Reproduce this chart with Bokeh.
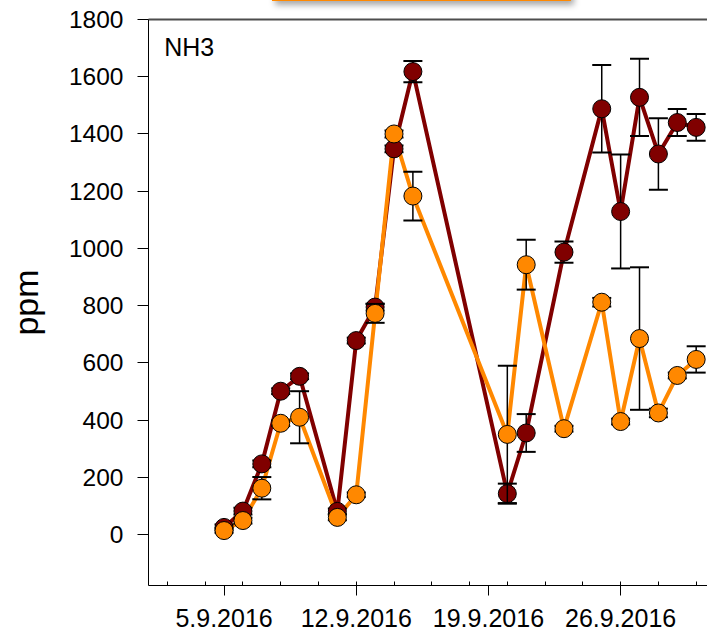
import pandas as pd
from bokeh.plotting import figure
from bokeh.layouts import column
from bokeh.models import ColumnDataSource, Range1d, FixedTicker, LinearAxis, Label, Div
from bokeh.embed import file_html
from bokeh.resources import INLINE

# ---- data ----
dates = ["2016-09-05", "2016-09-06", "2016-09-07", "2016-09-08", "2016-09-09",
         "2016-09-11", "2016-09-12", "2016-09-13", "2016-09-14", "2016-09-15",
         "2016-09-20", "2016-09-21", "2016-09-23", "2016-09-25", "2016-09-26",
         "2016-09-27", "2016-09-28", "2016-09-29", "2016-09-30"]
dark_vals = [25, 82, 247, 501, 553, 81, 678, 795, 1348, 1618,
             143, 355, 987, 1488, 1129, 1528, 1330, 1440, 1423]
dark_err = [10, 12, 12, 10, 10, 10, 10, 12, 12, 37,
            35, 66, 37, 153, 199, 135, 125, 47, 47]
orange_vals = [14, 49, 162, 389, 410, 60, 139, 773, 1400, 1183,
               350, 943, 370, 812, 395, 685, 425, 556, 612]
orange_err = [8, 10, 39, 10, 91, 10, 8, 33, 12, 85,
              240, 87, 10, 15, 10, 249, 15, 10, 46]
tick_dates = ["2016-09-05", "2016-09-12", "2016-09-19", "2016-09-26"]
tick_labels = ["5.9.2016", "12.9.2016", "19.9.2016", "26.9.2016"]
minor_dates = ["2016-09-%02d" % d for d in range(2, 31, 2)]
y_ticks = [0, 200, 400, 600, 800, 1000, 1200, 1400, 1600, 1800]
panel_label = "NH3"
y_label = "ppm"

DARK = "#800000"
ORANGE = "#FF8800"
FONT = "Liberation Sans"

def ms(s):
    return float(pd.Timestamp(s).value // 10**6)

x = pd.to_datetime(dates)
src = ColumnDataSource(dict(
    x=x,
    dark=dark_vals,
    dark_lo=[v - e for v, e in zip(dark_vals, dark_err)],
    dark_hi=[v + e for v, e in zip(dark_vals, dark_err)],
    orange=orange_vals,
    orange_lo=[v - e for v, e in zip(orange_vals, orange_err)],
    orange_hi=[v + e for v, e in zip(orange_vals, orange_err)],
))

x_start = pd.Timestamp("2016-09-01")
x_end = pd.Timestamp("2016-09-01") + pd.Timedelta(days=29.6)

W = 707
STRIP = 4
H = 636 - STRIP
LEFT, TOP, BOTTOM = 148, 19 - STRIP, 51
p = figure(width=W, height=H, x_axis_type="datetime",
           output_backend="svg", toolbar_location=None,
           x_range=Range1d(x_start, x_end), y_range=Range1d(-178, 1800),
           min_border_left=LEFT, min_border_right=0,
           min_border_top=TOP, min_border_bottom=BOTTOM)
p.xgrid.visible = False
p.ygrid.visible = False
p.outline_line_color = None
p.background_fill_color = "white"
p.border_fill_color = "white"

# lines
p.line("x", "dark", source=src, line_color=DARK, line_width=4)
p.line("x", "orange", source=src, line_color=ORANGE, line_width=4)

# dark error bars + markers
p.segment("x", "dark_lo", "x", "dark_hi", source=src, line_color="black", line_width=1.5)
p.scatter("x", "dark_lo", source=src, marker="dash", size=19, line_color="black", line_width=2)
p.scatter("x", "dark_hi", source=src, marker="dash", size=19, line_color="black", line_width=2)
p.scatter("x", "dark", source=src, size=18, fill_color=DARK, line_color="black", line_width=1)

# orange error bars + markers
p.segment("x", "orange_lo", "x", "orange_hi", source=src, line_color="black", line_width=1.5)
p.scatter("x", "orange_lo", source=src, marker="dash", size=19, line_color="black", line_width=2)
p.scatter("x", "orange_hi", source=src, marker="dash", size=19, line_color="black", line_width=2)
p.scatter("x", "orange", source=src, size=18, fill_color=ORANGE, line_color="black", line_width=1)

# x axis
xa = p.xaxis[0]
xa.ticker = FixedTicker(ticks=[ms(d) for d in tick_dates],
                        minor_ticks=[ms(d) for d in minor_dates])
xa.major_label_overrides = {ms(d): lab for d, lab in zip(tick_dates, tick_labels)}
xa.major_label_text_font = FONT
xa.major_label_text_font_size = "25px"
xa.major_label_text_color = "black"
xa.major_label_standoff = 13
xa.major_tick_out = 10
xa.major_tick_in = 0
xa.minor_tick_in = 4
xa.minor_tick_out = 0
xa.axis_line_color = "black"
xa.major_tick_line_color = "black"
xa.minor_tick_line_color = "black"

# y axis
ya = p.yaxis[0]
ya.ticker = FixedTicker(ticks=y_ticks)
ya.major_label_text_font = FONT
ya.major_label_text_font_size = "24.5px"
ya.major_label_text_color = "black"
ya.major_label_standoff = 14
ya.major_tick_out = 11
ya.major_tick_in = 0
ya.minor_tick_in = 0
ya.minor_tick_out = 0
ya.axis_line_color = "black"
ya.axis_label = y_label
ya.axis_label_text_font = FONT
ya.axis_label_text_font_size = "34px"
ya.axis_label_text_font_style = "normal"
ya.axis_label_text_color = "black"
ya.axis_label_standoff = 21

# top frame line
top = LinearAxis(ticker=FixedTicker(ticks=[]), major_label_text_font_size="0px",
                 major_tick_out=0, minor_tick_out=0, axis_line_color="#4d4d4d",
                 axis_line_width=2)
p.add_layout(top, "above")

p.add_layout(Label(x=pd.Timestamp("2016-09-01 20:00"), y=1752, text=panel_label,
                   text_font=FONT, text_font_size="25px", text_color="black",
                   text_align="left", text_baseline="top"))

# partly visible (cut off) legend box above the plot
legend_strip = Div(
    text=('<div style="position:absolute;left:272px;top:-15px;'
          'width:299px;height:16px;background:#FFB27D;border:2.5px solid #FF8800;'
          'box-shadow:3px 4px 6px rgba(0,0,0,0.35);"></div>'),
    width=W, height=STRIP, margin=0,
    styles={"overflow": "visible", "z-index": "5", "padding": "0px"})

layout = column(legend_strip, p, spacing=0)
open("out.html", "w").write(file_html(layout, INLINE))
